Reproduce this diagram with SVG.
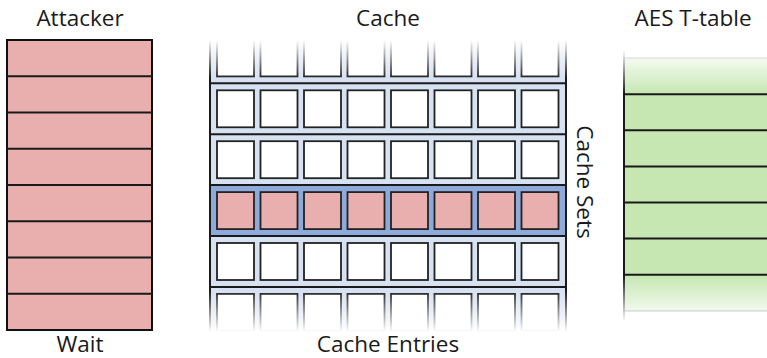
<svg xmlns="http://www.w3.org/2000/svg" width="767" height="358" viewBox="0 0 767 358">
  <defs>
    <style>
      .label { font-family: "Open Sans", "Noto Sans", "DejaVu Sans", sans-serif; font-size: 22.5px; fill: #1a1a1a; }
      .slot { fill: #e9afaf; stroke: #111; stroke-width: 2; }
      .entry { fill: #ffffff; stroke: #222; stroke-width: 1.8; }
      .hot { fill: #e9afaf; stroke: #222; stroke-width: 1.8; }
      .rule { stroke: #1a1a1a; stroke-width: 2; fill: none; }
      .t-row { fill: #c6e7b2; stroke: none; }
    </style>
    <!-- soft top/bottom fade of the cache column -->
    <linearGradient id="cacheFade" gradientUnits="userSpaceOnUse" x1="0" y1="40" x2="0" y2="332">
      <stop offset="0" stop-color="#fff" stop-opacity="0"/>
      <stop offset="0.13" stop-color="#fff" stop-opacity="1"/>
      <stop offset="0.86" stop-color="#fff" stop-opacity="1"/>
      <stop offset="1" stop-color="#fff" stop-opacity="0"/>
    </linearGradient>
    <mask id="cacheMask" maskUnits="userSpaceOnUse" x="200" y="20" width="380" height="330">
      <rect x="200" y="20" width="380" height="330" fill="url(#cacheFade)"/>
    </mask>
    <!-- soft top/bottom fade of the T-table -->
    <linearGradient id="tableFade" gradientUnits="userSpaceOnUse" x1="0" y1="50" x2="0" y2="322">
      <stop offset="0" stop-color="#fff" stop-opacity="0"/>
      <stop offset="0.16" stop-color="#fff" stop-opacity="1"/>
      <stop offset="0.83" stop-color="#fff" stop-opacity="1"/>
      <stop offset="1" stop-color="#fff" stop-opacity="0"/>
    </linearGradient>
    <mask id="tableMask" maskUnits="userSpaceOnUse" x="610" y="40" width="160" height="290">
      <rect x="610" y="40" width="160" height="290" fill="url(#tableFade)"/>
    </mask>
    <!-- one row of eight cache entries -->
    <g id="entries">
      <rect class="entry" x="217" y="0" width="37" height="37"/>
      <rect class="entry" x="260.5" y="0" width="37" height="37"/>
      <rect class="entry" x="304" y="0" width="37" height="37"/>
      <rect class="entry" x="347.5" y="0" width="37" height="37"/>
      <rect class="entry" x="391" y="0" width="37" height="37"/>
      <rect class="entry" x="434.5" y="0" width="37" height="37"/>
      <rect class="entry" x="478" y="0" width="37" height="37"/>
      <rect class="entry" x="521.5" y="0" width="37" height="37"/>
    </g>
  </defs>

  <rect x="0" y="0" width="767" height="358" fill="#ffffff"/>

  <!-- Attacker column -->
  <g id="attacker">
    <text class="label" x="80" y="26" text-anchor="middle">Attacker</text>
    <rect class="slot" x="7" y="40" width="145" height="290"/>
    <line class="rule" x1="7" y1="76.25" x2="152" y2="76.25"/>
    <line class="rule" x1="7" y1="112.5" x2="152" y2="112.5"/>
    <line class="rule" x1="7" y1="148.75" x2="152" y2="148.75"/>
    <line class="rule" x1="7" y1="185" x2="152" y2="185"/>
    <line class="rule" x1="7" y1="221.25" x2="152" y2="221.25"/>
    <line class="rule" x1="7" y1="257.5" x2="152" y2="257.5"/>
    <line class="rule" x1="7" y1="293.75" x2="152" y2="293.75"/>
    <text class="label" x="80" y="352" text-anchor="middle">Wait</text>
  </g>

  <!-- Cache: sets (rows) of entries (columns) -->
  <g id="cache">
    <text class="label" x="388" y="26" text-anchor="middle">Cache</text>
    <g mask="url(#cacheMask)">
      <rect x="210" y="32" width="356" height="306" fill="#d6e1f2"/>
      <rect x="210" y="185.1" width="356" height="50.9" fill="#8eaadb"/>
      <use href="#entries" y="39.4"/>
      <use href="#entries" y="90.3"/>
      <use href="#entries" y="141.2"/>
      <use href="#entries" y="243"/>
      <use href="#entries" y="293.9"/>
      <line class="rule" x1="210" y1="83.3" x2="566" y2="83.3"/>
      <line class="rule" x1="210" y1="134.2" x2="566" y2="134.2"/>
      <line class="rule" x1="210" y1="185.1" x2="566" y2="185.1"/>
      <line class="rule" x1="210" y1="236" x2="566" y2="236"/>
      <line class="rule" x1="210" y1="286.9" x2="566" y2="286.9"/>
      <line class="rule" x1="210" y1="30" x2="210" y2="340"/>
      <line class="rule" x1="566" y1="30" x2="566" y2="340"/>
    </g>
    <!-- the set that collides with the T-table lookup -->
    <g id="hot-set">
      <rect class="hot" x="217" y="192.1" width="37" height="37"/>
      <rect class="hot" x="260.5" y="192.1" width="37" height="37"/>
      <rect class="hot" x="304" y="192.1" width="37" height="37"/>
      <rect class="hot" x="347.5" y="192.1" width="37" height="37"/>
      <rect class="hot" x="391" y="192.1" width="37" height="37"/>
      <rect class="hot" x="434.5" y="192.1" width="37" height="37"/>
      <rect class="hot" x="478" y="192.1" width="37" height="37"/>
      <rect class="hot" x="521.5" y="192.1" width="37" height="37"/>
    </g>
    <text class="label" transform="translate(577 182) rotate(90)" text-anchor="middle">Cache Sets</text>
    <text class="label" x="388" y="352" text-anchor="middle">Cache Entries</text>
  </g>

  <!-- AES T-table, running off the right edge -->
  <g id="aes-table">
    <text class="label" x="693" y="26" text-anchor="middle">AES T-table</text>
    <g mask="url(#tableMask)">
      <rect class="t-row" x="624" y="58" width="150" height="253"/>
      <line class="rule" x1="624" y1="58" x2="767" y2="58" stroke-opacity="0.5"/>
      <line class="rule" x1="624" y1="94.2" x2="767" y2="94.2"/>
      <line class="rule" x1="624" y1="130.3" x2="767" y2="130.3"/>
      <line class="rule" x1="624" y1="166.4" x2="767" y2="166.4"/>
      <line class="rule" x1="624" y1="202.5" x2="767" y2="202.5"/>
      <line class="rule" x1="624" y1="238.6" x2="767" y2="238.6"/>
      <line class="rule" x1="624" y1="274.8" x2="767" y2="274.8"/>
      <line class="rule" x1="624" y1="311" x2="767" y2="311" stroke-opacity="0.5"/>
      <line class="rule" x1="624" y1="48" x2="624" y2="322"/>
    </g>
  </g>
</svg>
